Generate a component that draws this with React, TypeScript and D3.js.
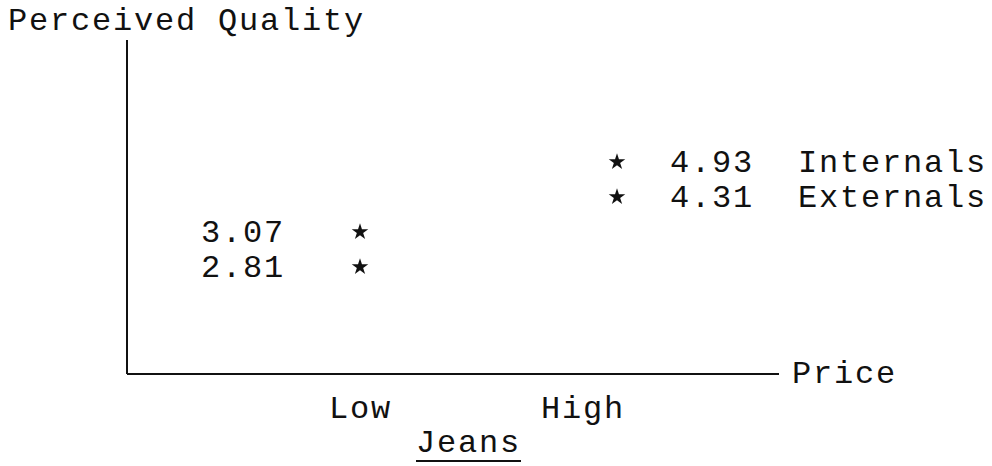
import React from 'react';
import * as d3 from 'd3';

// typed chart: perceived quality of jeans by price level
const priceLevels = ['Low', 'High'];
const groups = ['Internals', 'Externals'];
const qualityLow = [3.07, 2.81];
const qualityHigh = [4.93, 4.31];
const yTitle = 'Perceived Quality';
const xTitle = 'Price';
const productLabel = 'Jeans';

const W = 992;
const H = 466;
const FONT = '"Liberation Mono", "Courier New", monospace';

const App = () => {
    const origin = { x: 127, y: 374 };
    const axisTop = 40;
    const axisRight = 779;

    // star columns and tick label columns
    const xStar = d3.scalePoint().domain(priceLevels).range([360, 617]);
    const xTick = d3.scalePoint().domain(priceLevels).range([329, 541]);

    // the typewritten rows follow the rank of the values, not their size
    const points = [];
    priceLevels.forEach((p, pi) => {
        const vals = pi === 0 ? qualityLow : qualityHigh;
        vals.forEach((v, gi) => points.push({ price: p, group: groups[gi], value: v }));
    });
    const ranked = points.map(d => d.value).sort((a, b) => b - a);
    const yRow = d3.scalePoint().domain(d3.range(ranked.length)).range([162, 267]);
    const yOf = v => yRow(ranked.indexOf(v));

    const star = d3.symbol().type(d3.symbolStar).size(85)();
    const textStyle = { fontFamily: FONT, fontSize: 32, letterSpacing: 1.8, fill: '#111' };

    return (
        <svg width={W} height={H} style={{ position: 'absolute', left: 0, top: 0, background: '#fff' }}>
            <text x={8} y={30} style={textStyle}>{yTitle}</text>

            {/* axes */}
            <line x1={origin.x} y1={axisTop} x2={origin.x} y2={origin.y} stroke="#111" strokeWidth={2} />
            <line x1={origin.x} y1={origin.y} x2={axisRight} y2={origin.y} stroke="#111" strokeWidth={2} />
            <text x={792} y={383} style={textStyle}>{xTitle}</text>

            {priceLevels.map(p => (
                <text key={p} x={xTick(p)} y={418} style={textStyle}>{p}</text>
            ))}
            <text x={416} y={452} style={textStyle}>{productLabel}</text>
            <line x1={416} y1={461} x2={521} y2={461} stroke="#111" strokeWidth={2} />

            {points.map(d => {
                const x = xStar(d.price);
                const y = yOf(d.value);
                const low = d.price === priceLevels[0];
                return (
                    <g key={d.price + d.group}>
                        <path d={star} transform={`translate(${x},${y})`} fill="#111" />
                        {low ? (
                            <text x={x - 75} y={y + 10} textAnchor="end" style={textStyle}>{d.value.toFixed(2)}</text>
                        ) : (
                            <>
                                <text x={x + 53} y={y + 10} style={textStyle}>{d.value.toFixed(2)}</text>
                                <text x={x + 181} y={y + 10} style={textStyle}>{d.group}</text>
                            </>
                        )}
                    </g>
                );
            })}
        </svg>
    );
};

export default App;
